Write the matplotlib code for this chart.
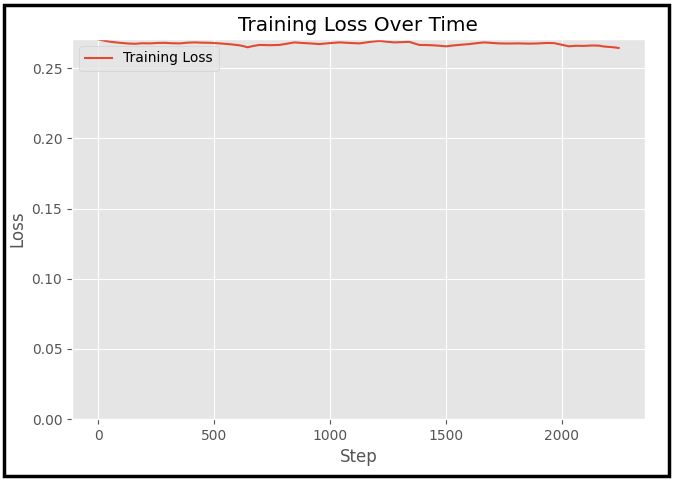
import matplotlib
matplotlib.use("Agg")
from matplotlib import pyplot as plt
from matplotlib.patches import Rectangle

# Training loss (step, loss)
steps = [0, 30, 60, 95, 130, 160, 190, 224, 255, 288, 320, 353, 385, 417,
         450, 482, 515, 546, 580, 611, 630, 645, 670, 697, 740, 783, 815,
         847, 880, 912, 955, 1000, 1041, 1085, 1127, 1170, 1213, 1245, 1277,
         1310, 1342, 1385, 1420, 1449, 1480, 1501, 1530, 1557, 1600, 1635,
         1665, 1700, 1729, 1770, 1815, 1860, 1901, 1935, 1966, 2000, 2030,
         2060, 2095, 2130, 2159, 2180, 2202, 2225, 2245]
loss = [0.2707, 0.2696, 0.2688, 0.2682, 0.2677, 0.2675, 0.2679, 0.2678,
        0.2681, 0.2682, 0.2679, 0.2678, 0.2683, 0.2685, 0.2683, 0.2682,
        0.2679, 0.2675, 0.2670, 0.2664, 0.2657, 0.2650, 0.2660, 0.2667,
        0.2665, 0.2667, 0.2676, 0.2685, 0.2681, 0.2678, 0.2673, 0.2680,
        0.2685, 0.2681, 0.2678, 0.2688, 0.2696, 0.2690, 0.2685, 0.2687,
        0.2689, 0.2667, 0.2666, 0.2664, 0.2660, 0.2657, 0.2663, 0.2667,
        0.2673, 0.2680, 0.2685, 0.2681, 0.2678, 0.2677, 0.2678, 0.2676,
        0.2678, 0.2681, 0.2680, 0.2668, 0.2657, 0.2661, 0.2660, 0.2663,
        0.2662, 0.2656, 0.2653, 0.2650, 0.2645]

plt.style.use("ggplot")
fig = plt.figure(figsize=(6.73, 4.8), dpi=100)
ax = fig.add_axes([0.107, 0.127, 0.851, 0.792])
ax.plot(steps, loss, label="Training Loss")
ax.set_ylim(bottom=0)
ax.set_title("Training Loss Over Time")
ax.set_xlabel("Step")
ax.set_ylabel("Loss")
ax.legend(loc="upper left")

# black frame around the whole figure
fig.patches.append(Rectangle((0.006, 0.008), 0.988, 0.982, transform=fig.transFigure,
                             fill=False, edgecolor="black", linewidth=2.5))

fig.savefig("out.png", dpi=100)
